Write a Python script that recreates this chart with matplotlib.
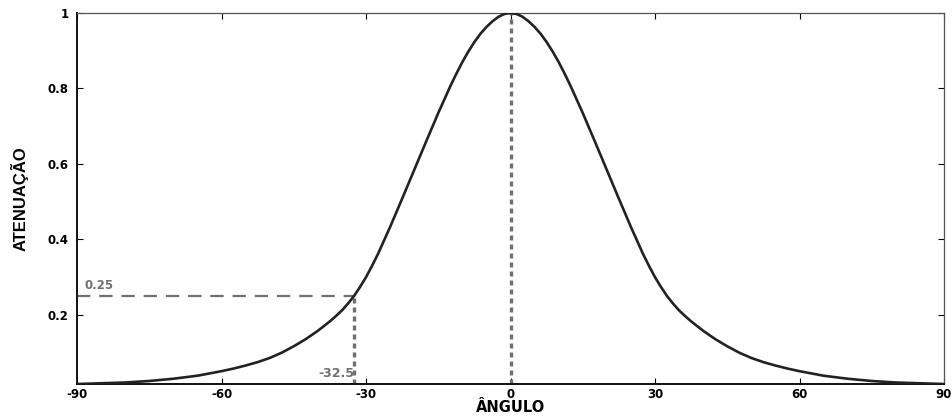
import matplotlib
matplotlib.use("Agg")
import matplotlib.pyplot as plt

# Right half of the symmetric curve
angle_half = [0, 1.25, 2.5, 3.75, 5, 6.25, 7.5, 8.75, 10, 11.25, 12.5, 15, 17.5,
              20, 22.5, 25, 27.5, 28.75, 30, 31.25, 32.5, 33.75, 35, 36.25, 37.5,
              40, 42.5, 45, 47.5, 50, 52.5, 55, 57.5, 60, 65, 70, 75, 80, 85, 90]
atten_half = [1.000, 0.9975, 0.990, 0.978, 0.963, 0.945, 0.923, 0.898, 0.870,
              0.839, 0.806, 0.735, 0.660, 0.584, 0.508, 0.433, 0.362, 0.330,
              0.300, 0.274, 0.250, 0.230, 0.212, 0.197, 0.183, 0.158, 0.136,
              0.117, 0.100, 0.086, 0.075, 0.066, 0.058, 0.051, 0.039, 0.031,
              0.025, 0.021, 0.019, 0.017]

angles = [-a for a in angle_half[:0:-1]] + angle_half
atten = atten_half[:0:-1] + atten_half

x_ticks = [-90, -60, -30, 0, 30, 60, 90]
y_ticks = [0.2, 0.4, 0.6, 0.8, 1.0]
y_tick_labels = ["0.2", "0.4", "0.6", "0.8", "1"]

ref_angle = -32.5
ref_value = 0.25

fig = plt.figure(figsize=(9.52, 4.17), dpi=100)
ax = fig.add_axes([0.0809, 0.0791, 0.9107, 0.8897])

ymin = min(atten)
ax.set_xlim(-90, 90)
ax.set_ylim(ymin, 1.0)

gray = "#707070"
ax.plot(angles, atten, color="#222222", lw=1.9, zorder=3,
        solid_joinstyle="round", solid_capstyle="round")
ax.plot([-90, ref_angle], [ref_value, ref_value], color=gray, lw=1.6,
        dashes=(6, 4), zorder=2)
ax.plot([ref_angle, ref_angle], [ymin, ref_value], color=gray, lw=2.4,
        dashes=(1.5, 1.2), zorder=2)
ax.plot([0, 0], [ymin, 1.0], color=gray, lw=2.4, dashes=(1.5, 1.2), zorder=2)

ax.text(-88.5, 0.262, "0.25", color=gray, fontsize=8.5, fontweight="bold",
        family="DejaVu Sans", ha="left", va="bottom")
ax.text(ref_angle, 0.046, "-32.5", color=gray, fontsize=9, fontweight="bold",
        family="DejaVu Sans", ha="right", va="center")

ax.set_xticks(x_ticks)
ax.set_xticklabels([str(v) for v in x_ticks])
ax.set_yticks(y_ticks)
ax.set_yticklabels(y_tick_labels)
ax.tick_params(direction="in", length=4, width=0.8, top=True, right=True,
               labelsize=8.5)
ax.tick_params(axis="x", pad=3)
ax.tick_params(axis="y", pad=6)
for lab in ax.get_xticklabels() + ax.get_yticklabels():
    lab.set_fontweight("bold")
    lab.set_family("DejaVu Sans")

for side in ["left", "bottom"]:
    ax.spines[side].set_linewidth(1.4)
    ax.spines[side].set_color("#111111")
for side in ["top", "right"]:
    ax.spines[side].set_linewidth(0.9)
    ax.spines[side].set_color("#555555")

ax.set_xlabel("ÂNGULO", fontsize=10.5, fontweight="bold", family="DejaVu Sans",
              labelpad=-1)
ax.set_ylabel("ATENUAÇÃO", fontsize=12, fontweight="bold",
              family=["Liberation Sans Narrow", "Liberation Sans"], labelpad=14)

fig.savefig("out.png", dpi=100)
